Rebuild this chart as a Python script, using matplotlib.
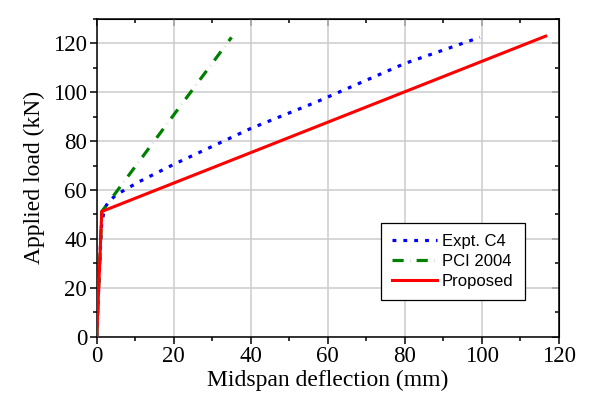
import matplotlib
matplotlib.use("Agg")
import matplotlib.pyplot as plt
from matplotlib.ticker import MultipleLocator

# load-deflection curves (deflection in mm, load in kN)
expt_defl = [0, 0.5, 1.2, 2.0, 3.0, 5.0, 11.0, 20.0, 40.0, 57.0, 80.0, 99.5]
expt_load = [0, 20, 45, 52.5, 55.0, 58.0, 63.4, 70.5, 85.2, 96.0, 111.8, 122.5]

pci_defl = [0, 1.3, 35.0]
pci_load = [0, 51.2, 122.5]

prop_defl = [0, 1.3, 116.6]
prop_load = [0, 51.2, 123.0]

plt.rcParams['font.family'] = ['Liberation Serif', 'DejaVu Serif']

fig = plt.figure(figsize=(5.9, 4.05), dpi=100)
ax = fig.add_axes([0.164, 0.169, 0.783, 0.784])

ax.plot(expt_defl, expt_load, color='#0000ff', lw=2.3, linestyle=(0, (1.2, 2.2)),
        label='Expt. C4', zorder=3)
ax.plot(pci_defl, pci_load, color='#008000', lw=2.3, linestyle=(0, (3.5, 2.0, 0.05, 2.0)),
        label='PCI 2004', zorder=3)
ax.plot(prop_defl, prop_load, color='#ff0000', lw=2.2, label='Proposed', zorder=4)

ax.set_xlim(0, 120)
ax.set_ylim(0, 130)
ax.xaxis.set_major_locator(MultipleLocator(20))
ax.xaxis.set_minor_locator(MultipleLocator(10))
ax.yaxis.set_major_locator(MultipleLocator(20))
ax.yaxis.set_minor_locator(MultipleLocator(10))
ax.grid(True, which='major', color='#cccccc', lw=1.1, zorder=0)
ax.set_axisbelow(True)

for s in ax.spines.values():
    s.set_linewidth(1.1)

ax.tick_params(which='major', direction='out', length=5, width=1.1, labelsize=16.5, pad=2)
ax.tick_params(which='minor', direction='out', length=3, width=1.1)

# inward ticks on the top and right frame
top = ax.secondary_xaxis('top')
top.xaxis.set_major_locator(MultipleLocator(20))
top.xaxis.set_minor_locator(MultipleLocator(10))
top.tick_params(which='major', direction='in', length=5, width=1.1, labeltop=False)
top.tick_params(which='minor', direction='in', length=3, width=1.1)
right = ax.secondary_yaxis('right')
right.yaxis.set_major_locator(MultipleLocator(20))
right.yaxis.set_minor_locator(MultipleLocator(10))
right.tick_params(which='major', direction='in', length=5, width=1.1, labelright=False)
right.tick_params(which='minor', direction='in', length=3, width=1.1)

ax.set_xlabel('Midspan deflection (mm)', fontsize=17, labelpad=2)
ax.set_ylabel('Applied load (kN)', fontsize=17, labelpad=6)

leg = ax.legend(loc='lower right', bbox_to_anchor=(0.926, 0.115),
                borderaxespad=0, prop={'family': 'Liberation Sans', 'size': 12},
                fancybox=False, framealpha=1, edgecolor='black',
                handlelength=2.7, handletextpad=0.3, borderpad=0.65,
                labelspacing=0.3)
leg.get_frame().set_linewidth(0.9)

fig.savefig('out.png', dpi=100)
